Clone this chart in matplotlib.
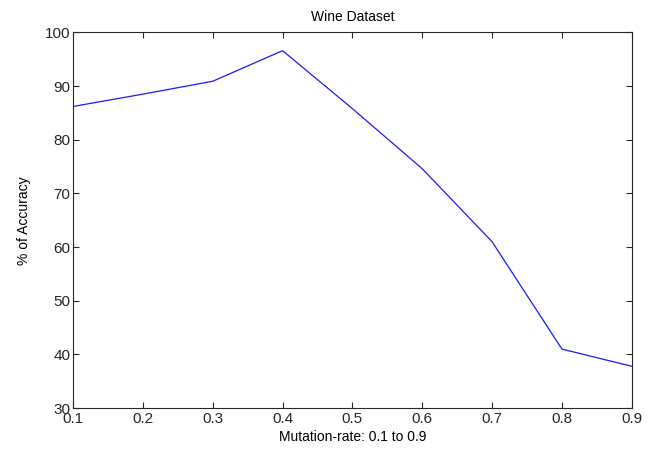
import numpy as np
import matplotlib.pyplot as plt

plt.rcParams['font.family'] = ['Liberation Sans', 'DejaVu Sans']

mutation_rate = [0.1, 0.2, 0.3, 0.4, 0.5, 0.6, 0.7, 0.8, 0.9]
accuracy = [86.2, 88.5, 90.9, 96.6, 85.8, 74.6, 61.0, 41.0, 37.8]

fig = plt.figure(figsize=(6.52, 4.5), dpi=100)
ax = fig.add_axes([0.112, 0.093, 0.857, 0.835])
ax.plot(mutation_rate, accuracy, color='#1a1aff', linewidth=0.9)

ax.set_xlim(0.1, 0.9)
ax.set_ylim(30, 100)
ax.set_xticks(np.arange(0.1, 0.91, 0.1))
ax.set_xticklabels(['0.1', '0.2', '0.3', '0.4', '0.5', '0.6', '0.7', '0.8', '0.9'])
ax.set_yticks(np.arange(30, 101, 10))
ax.tick_params(direction='in', top=True, right=True, length=4, width=0.8,
               labelsize=11, pad=2, colors='#262626')
ax.tick_params(axis='x', pad=3)
for s in ax.spines.values():
    s.set_color('#262626')
    s.set_linewidth(0.8)

ax.set_title("Wine Dataset", fontsize=10, pad=8)
ax.set_xlabel("Mutation-rate: 0.1 to 0.9", fontsize=10, labelpad=3)
ax.set_ylabel("% of Accuracy", fontsize=10, labelpad=10)

fig.savefig("out.png", dpi=100)
